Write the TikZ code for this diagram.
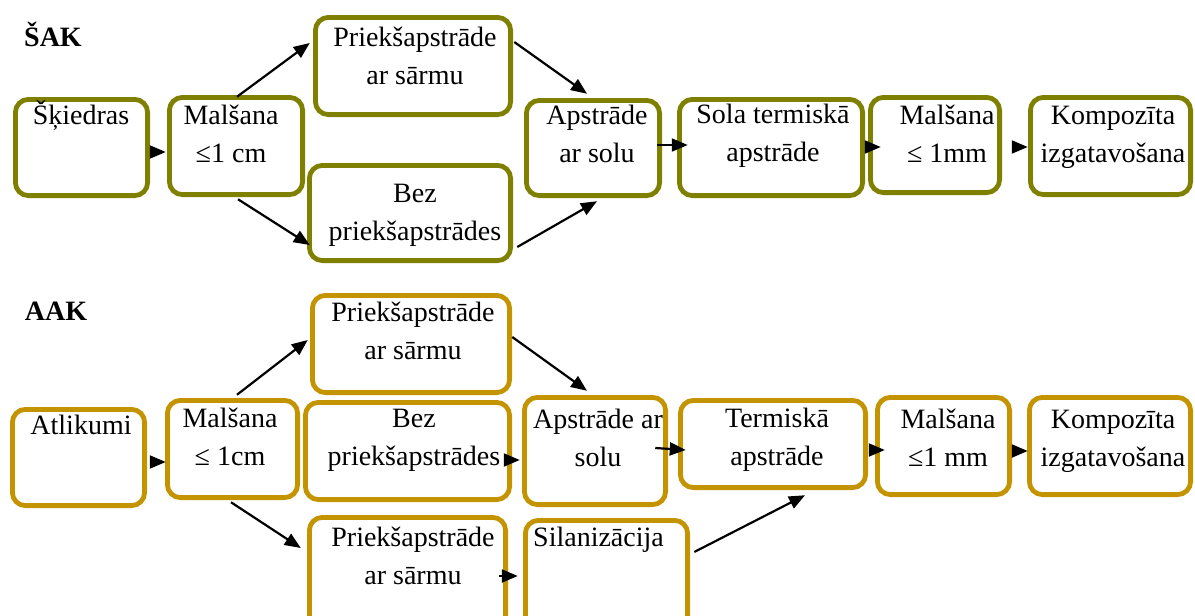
\documentclass[tikz,border=0pt]{standalone}
\usepackage{fontspec}
\setmainfont{Liberation Serif}
\usetikzlibrary{arrows.meta}
\definecolor{olivebox}{RGB}{128,128,0}
\definecolor{goldbox}{RGB}{196,148,0}
\newcommand{\fs}{\fontsize{28}{38}\selectfont}
\newcommand{\bx}[6]{%
  \pgfmathsetmacro{\bw}{#5-#3-4.8}%
  \pgfmathsetmacro{\bh}{#6-#4-4.8}%
  \pgfmathsetmacro{\bcx}{(#3+#5)/2}%
  \pgfmathsetmacro{\bcy}{(#4+#6)/2}%
  \node[box,draw=#1,minimum width=\bw pt,minimum height=\bh pt] (#2) at (\bcx,\bcy) {};}
\tikzset{
  box/.style={rectangle,rounded corners=13pt,line width=4.8pt,inner sep=0pt,fill=none},
  txt/.style={font=\fs,align=center,inner sep=0pt,yshift=-2pt},
  ttl/.style={font=\fs\bfseries,inner sep=0pt,yshift=-1pt},
  arr/.style={line width=2.2pt,-{Triangle[length=16pt,width=13pt]}}
}
\begin{document}
\begin{tikzpicture}[x=1pt,y=-1pt]
\useasboundingbox (0,0) rectangle (1195,616);
% ---------- top: ŠAK ----------
\node[ttl] (tS) at (53,38) {\strut ŠAK};
\bx{olivebox}{s1}{13}{97}{150}{198}
\bx{olivebox}{m1}{167}{95}{305}{197}
\bx{olivebox}{p1}{313}{15}{513}{117}
\bx{olivebox}{b1}{307}{163}{513}{263}
\bx{olivebox}{a1}{524}{98}{662}{198}
\bx{olivebox}{t1}{677}{97}{865}{198}
\bx{olivebox}{g1}{868}{95}{1002}{195}
\bx{olivebox}{k1}{1028}{95}{1193}{197}
\node[txt] (ts1) at (81,115) {\strut Šķiedras};
\node[txt] (tm1) at (231,134) {\strut Malšana\\\strut ≤1 cm};
\node[txt] (tp1) at (415,56) {\strut Priekšapstrāde\\\strut ar sārmu};
\node[txt] (tb1) at (415,211.5) {\strut Bez\\\strut priekšapstrādes};
\node[txt] (ta1) at (597,134) {\strut Apstrāde\\\strut ar solu};
\node[txt] (tt1) at (773,133) {\strut Sola termiskā\\\strut apstrāde};
\node[txt] (tg1) at (947,134) {\strut Malšana\\\strut ≤ 1mm};
\node[txt] (tk1) at (1113,134) {\strut Kompozīta\\\strut izgatavošana};
\draw[arr] ([shift={(2.25,4.5)}]s1.east) -- ([shift={(-1.25,6)}]m1.west);
\draw[arr] ([shift={(1,1.75)}]m1.north) -- ([shift={(-3.25,-23)}]p1.west);
\draw[arr] ([shift={(2,2.25)}]m1.south) -- ([shift={(2.75,32)}]b1.west);
\draw[arr] ([shift={(1.25,-24)}]p1.east) -- ([shift={(-6,-4.25)}]a1.north);
\draw[arr] ([shift={(4.25,34)}]b1.east) -- ([shift={(4,3.25)}]a1.south);
\draw[arr] ([shift={(-4.75,-3)}]a1.east) -- ([shift={(10.75,-2.5)}]t1.west);
\draw[arr] ([shift={(2.25,-0.5)}]t1.east) -- ([shift={(12.75,2)}]g1.west);
\draw[arr] ([shift={(10.25,2)}]g1.east) -- ([shift={(-0.25,1)}]k1.west);
% ---------- bottom: AAK ----------
\node[ttl] (tA) at (56,312) {\strut AAK};
\bx{goldbox}{at}{10}{407}{147}{508}
\bx{goldbox}{m2}{165}{398}{300}{500}
\bx{goldbox}{p2}{310}{293}{512}{395}
\bx{goldbox}{b2}{303}{400}{512}{502}
\bx{goldbox}{a2}{522}{395}{668}{507}
\bx{goldbox}{t2}{678}{398}{868}{490}
\bx{goldbox}{g2}{875}{395}{1012}{497}
\bx{goldbox}{k2}{1027}{395}{1193}{497}
\bx{goldbox}{p3}{307}{515}{508}{640}
\bx{goldbox}{s3}{523}{518}{690}{640}
\node[txt] (tat) at (81,425) {\strut Atlikumi};
\node[txt] (tm2) at (230,437) {\strut Malšana\\\strut ≤ 1cm};
\node[txt] (tp2) at (413,331) {\strut Priekšapstrāde\\\strut ar sārmu};
\node[txt] (tb2) at (414,437) {\strut Bez\\\strut priekšapstrādes};
\node[txt] (ta2) at (598,437.5) {\strut Apstrāde ar\\\strut solu};
\node[txt] (tt2) at (777,437) {\strut Termiskā\\\strut apstrāde};
\node[txt] (tg2) at (948,438) {\strut Malšana\\\strut ≤1 mm};
\node[txt] (tk2) at (1113,437.5) {\strut Kompozīta\\\strut izgatavošana};
\node[txt] (tp3) at (413,556) {\strut Priekšapstrāde\\\strut ar sārmu};
\node[txt,anchor=west] (ts3) at (533,537) {\strut Silanizācija};
\draw[arr] ([shift={(3.25,4.5)}]at.east) -- ([shift={(0.75,13)}]m2.west);
\draw[arr] ([shift={(4.5,-3.25)}]m2.north) -- ([shift={(-2.25,-4)}]p2.west);
\draw[arr] ([shift={(-1.5,2.25)}]m2.south) -- ([shift={(-6.25,-29.5)}]p3.west);
\draw[arr] ([shift={(0.25,-7)}]p2.east) -- ([shift={(-8,-4.25)}]a2.north);
\draw[arr] ([shift={(-2.75,9)}]b2.east) -- ([shift={(-2.25,9)}]a2.west);
\draw[arr] ([shift={(-12.75,-3)}]a2.east) -- ([shift={(7.75,6)}]t2.west);
\draw[arr] ([shift={(2.25,6)}]t2.east) -- ([shift={(9.75,4)}]g2.west);
\draw[arr] ([shift={(0.25,5)}]g2.east) -- ([shift={(0.75,5)}]k2.west);
\draw[arr] ([shift={(-8.75,-1.5)}]p3.east) -- ([shift={(-5.25,-3)}]s3.west);
\draw[arr] ([shift={(4.25,-27)}]s3.east) -- ([shift={(32,5.25)}]t2.south);
\end{tikzpicture}
\end{document}
